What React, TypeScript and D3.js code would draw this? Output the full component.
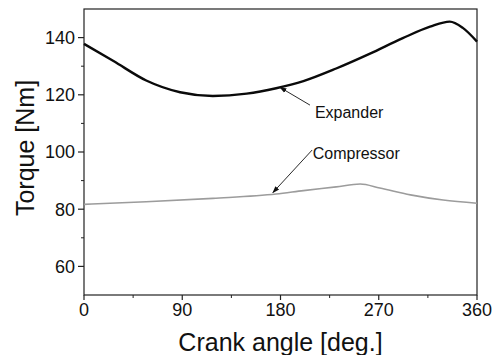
import React from "react";
import * as d3 from "d3";

// values
const expanderAngle = [0, 27, 57, 88, 118, 149, 176, 201, 231, 262, 292, 317, 335, 347, 360];
const expanderTorque = [137.8, 131.8, 125.0, 120.9, 119.6, 120.4, 122.3, 124.8, 129.2, 134.4, 139.8, 143.8, 145.6, 143.4, 138.6];

const compressorAngle = [0, 57, 118, 176, 201, 231, 253, 271, 299, 329, 360];
const compressorTorque = [81.7, 82.6, 83.8, 85.3, 86.5, 87.8, 88.8, 87.4, 85.0, 83.2, 82.1];

const xTicks = [0, 90, 180, 270, 360];
const xMinor = [45, 135, 225, 315];
const yTicks = [60, 80, 100, 120, 140];
const yMinor = [70, 90, 110, 130];

// labels: [text, textAngle, textValue, tailAngle, tailValue, tipAngle, tipValue]
const notes: [string, number, number, number, number, number, number][] = [
  ["Expander", 211.5, 111.9, 207, 116.4, 179.5, 122.6],
  ["Compressor", 209.5, 97.6, 209, 100.7, 173, 85.8],
];

const width = 500;
const height = 355;
const margin = { top: 9, right: 23, bottom: 60, left: 84 };
const font = "Liberation Sans, Arial, Helvetica, sans-serif";

const App = () => {
  const bottom = height - margin.bottom;
  const right = width - margin.right;

  const x = d3.scaleLinear().domain([0, 360]).range([margin.left, right]);
  const y = d3.scaleLinear().domain([50, 150]).range([bottom, margin.top]);

  const line = d3
    .line<[number, number]>()
    .x((d) => x(d[0]))
    .y((d) => y(d[1]))
    .curve(d3.curveMonotoneX);

  const expander = line(expanderAngle.map((a, i) => [a, expanderTorque[i]]));
  const compressor = line(compressorAngle.map((a, i) => [a, compressorTorque[i]]));

  return (
    <svg
      width={width}
      height={height}
      viewBox={`0 0 ${width} ${height}`}
      style={{ position: "absolute", left: 0, top: 0, background: "#fff" }}
    >
      <defs>
        <marker id="head" viewBox="0 0 10 10" refX="9" refY="5" markerWidth="8" markerHeight="8" orient="auto">
          <path d="M0,1.5 L10,5 L0,8.5 Z" fill="#111" />
        </marker>
      </defs>

      {/* frame */}
      <rect
        x={margin.left}
        y={margin.top}
        width={right - margin.left}
        height={bottom - margin.top}
        fill="none"
        stroke="#222"
        strokeWidth={1.2}
      />

      {/* x axis */}
      <g>
        {xTicks.map((t) => (
          <g key={t}>
            <line x1={x(t)} x2={x(t)} y1={bottom} y2={bottom + 5} stroke="#222" strokeWidth={1.2} />
            <text x={x(t)} y={bottom + 21} textAnchor="middle" fontFamily={font} fontSize={18} fill="#111">
              {t}
            </text>
          </g>
        ))}
        {xMinor.map((t) => (
          <line key={t} x1={x(t)} x2={x(t)} y1={bottom} y2={bottom + 3} stroke="#222" strokeWidth={1} />
        ))}
        <text
          x={(margin.left + right) / 2}
          y={height - 4}
          textAnchor="middle"
          fontFamily={font}
          fontSize={25}
          fill="#111"
        >
          Crank angle [deg.]
        </text>
      </g>

      {/* y axis */}
      <g>
        {yTicks.map((t) => (
          <g key={t}>
            <line x1={margin.left - 6} x2={margin.left} y1={y(t)} y2={y(t)} stroke="#222" strokeWidth={1.2} />
            <text
              x={margin.left - 9}
              y={y(t)}
              dy="0.36em"
              textAnchor="end"
              fontFamily={font}
              fontSize={18}
              fill="#111"
            >
              {t}
            </text>
          </g>
        ))}
        {yMinor.map((t) => (
          <line key={t} x1={margin.left - 3} x2={margin.left} y1={y(t)} y2={y(t)} stroke="#222" strokeWidth={1} />
        ))}
        <text
          transform={`translate(34,148) rotate(-90)`}
          textAnchor="middle"
          fontFamily={font}
          fontSize={25}
          fill="#111"
        >
          Torque [Nm]
        </text>
      </g>

      {/* series */}
      <path d={compressor ?? ""} fill="none" stroke="#9c9c9c" strokeWidth={1.6} />
      <path d={expander ?? ""} fill="none" stroke="#0a0a0a" strokeWidth={2.4} />

      {/* annotations */}
      {notes.map(([label, ta, tv, la, lv, pa, pv]) => (
        <g key={label}>
          <line
            x1={x(la)}
            y1={y(lv)}
            x2={x(pa)}
            y2={y(pv)}
            stroke="#111"
            strokeWidth={0.9}
            markerEnd="url(#head)"
          />
          <text x={x(ta)} y={y(tv)} fontFamily={font} fontSize={16} fill="#111">
            {label}
          </text>
        </g>
      ))}
    </svg>
  );
};

export default App;
